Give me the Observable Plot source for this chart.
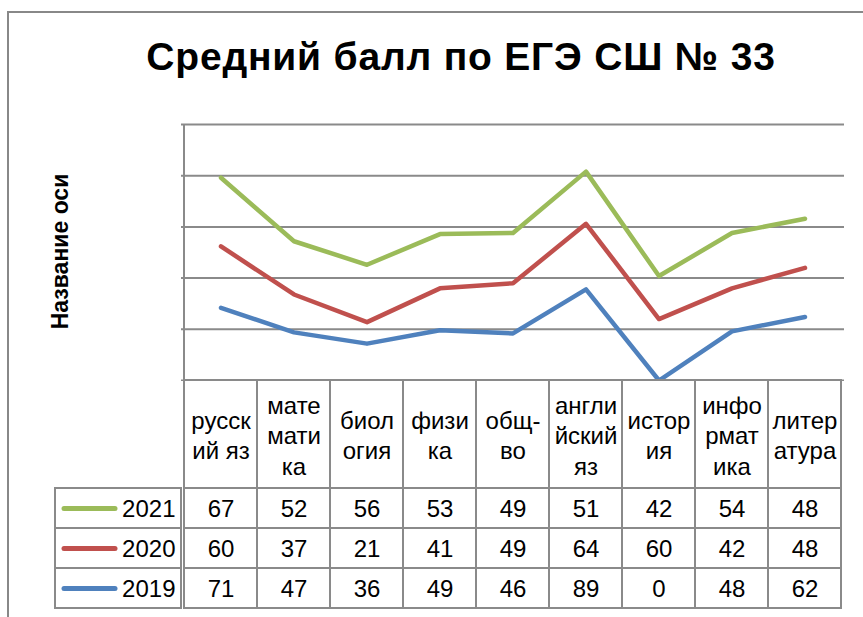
<!DOCTYPE html>
<html><head><meta charset="utf-8">
<script src="https://cdn.jsdelivr.net/npm/d3@7"></script>
<script src="https://cdn.jsdelivr.net/npm/@observablehq/plot@0.6"></script>
<style>
body{margin:0;background:#fff;}
#root{position:relative;width:863px;height:617px;overflow:hidden;background:#fff;font-family:"Liberation Sans",Arial,sans-serif;}
.abs{position:absolute;}
#frame{left:7px;top:11px;width:900px;height:700px;border-left:2px solid #888;border-top:2px solid #888;}
#title{left:0;top:37px;width:922px;text-align:center;font-weight:bold;font-size:39px;line-height:39px;letter-spacing:0.8px;color:#000;white-space:nowrap;}
#ytitle{left:-40px;top:240px;width:200px;text-align:center;font-weight:bold;font-size:23px;line-height:23px;transform:rotate(-90deg);color:#000;white-space:nowrap;}
</style></head><body><div id="root"><div id="frame" class="abs"></div></div>
<script>
const title = "Средний балл по ЕГЭ СШ № 33";
const yAxisTitle = "Название оси";
const categories = ["русский яз","математика","биология","физика","общ-во","английский яз","история","информатика","литература"];
const categoryLabels = ["русск\nий яз","мате\nмати\nка","биол\nогия","физи\nка","общ-\nво","англи\nйский\nяз","истор\nия","инфо\nрмат\nика","литер\nатура"];
const tableYears = ["2021","2020","2019"];
const stackYears = ["2019","2020","2021"];
const values2021 = [67,52,56,53,49,51,42,54,48];
const values2020 = [60,37,21,41,49,64,60,42,48];
const values2019 = [71,47,36,49,46,89,0,48,62];
const yTicks = [0,50,100,150,200,250];
const seriesColors = ["#4F81BD","#C0504D","#9BBB59"]; // 2019, 2020, 2021

const seriesValues = {"2019": values2019, "2020": values2020, "2021": values2021};
const long = [];
categories.forEach((c, i) => {
  stackYears.forEach(y => long.push({cat: c, year: y, value: seriesValues[y][i]}));
});
const colorScale = {domain: stackYears, range: seriesColors};
const grid = "#8a8a8a";
const fontFam = '"Liberation Sans", Arial, sans-serif';
const root = document.getElementById("root");

function place(el, left, top) {
  el.style.position = "absolute";
  el.style.left = left + "px";
  el.style.top = top + "px";
  root.appendChild(el);
}

// Line chart (stacked)
const chart = Plot.plot({
  width: 863, height: 381,
  marginTop: 124, marginBottom: 1, marginLeft: 181, marginRight: 19,
  style: {background: "transparent", fontFamily: fontFam},
  x: {domain: categories, type: "band", padding: 0, axis: null},
  y: {domain: [0, 250], ticks: yTicks, tickFormat: () => "", tickSize: 0, label: null, line: false},
  color: colorScale,
  marks: [
    Plot.ruleY(yTicks, {stroke: grid, strokeWidth: 2, strokeOpacity: 1}),
    Plot.ruleX([categories[0]], {stroke: grid, strokeWidth: 2, dx: -37}),
    Plot.lineY(long, Plot.stackY2({x: "cat", y: "value", z: "year", stroke: "year", strokeWidth: 4.5, strokeLinejoin: "round", strokeLinecap: "round"}))
  ]
});
place(chart, 0, 0);

// Header row of data table
const header = Plot.plot({
  width: 863, height: 110,
  marginTop: 1, marginBottom: 1, marginLeft: 181, marginRight: 19,
  style: {background: "transparent", fontFamily: fontFam},
  x: {domain: categories, type: "band", padding: 0, axis: null},
  marks: [
    Plot.cell(categories, {x: d => d, fill: "none", stroke: grid, strokeWidth: 2}),
    Plot.text(categories, {x: d => d, text: (d, i) => categoryLabels[i], fontSize: 24, lineHeight: 1.27, fill: "#000"})
  ]
});
place(header, 0, 379);

// Data rows
const rows = [];
tableYears.forEach(y => categories.forEach((c, i) => rows.push({cat: c, year: y, value: seriesValues[y][i]})));
const body = Plot.plot({
  width: 863, height: 122,
  marginTop: 1, marginBottom: 1, marginLeft: 181, marginRight: 19,
  style: {background: "transparent", fontFamily: fontFam},
  x: {domain: categories, type: "band", padding: 0, axis: null},
  y: {domain: tableYears, type: "band", padding: 0, axis: null},
  marks: [
    Plot.cell(rows, {x: "cat", y: "year", fill: "none", stroke: grid, strokeWidth: 2}),
    Plot.text(rows, {x: "cat", y: "year", text: d => String(d.value), fontSize: 24, fill: "#000", dy: 1})
  ]
});
place(body, 0, 487);

// Legend column
const legend = Plot.plot({
  width: 128, height: 122,
  marginTop: 1, marginBottom: 1, marginLeft: 1, marginRight: 1,
  style: {background: "transparent", fontFamily: fontFam},
  y: {domain: tableYears, type: "band", padding: 0, axis: null},
  color: colorScale,
  marks: [
    Plot.cell(tableYears, {y: d => d, fill: "none", stroke: grid, strokeWidth: 2}),
    Plot.ruleY(tableYears, {y: d => d, stroke: d => d, strokeWidth: 5, strokeLinecap: "round", insetLeft: 9, insetRight: 66}),
    Plot.text(tableYears, {y: d => d, text: d => d, frameAnchor: "right", textAnchor: "end", dx: -6, dy: 1, fontSize: 24, fill: "#000"})
  ]
});
place(legend, 54, 487);

const t = document.createElement("div");
t.id = "title"; t.className = "abs"; t.textContent = title;
root.appendChild(t);
const yt = document.createElement("div");
yt.id = "ytitle"; yt.className = "abs"; yt.textContent = yAxisTitle;
root.appendChild(yt);
</script>
</body></html>
